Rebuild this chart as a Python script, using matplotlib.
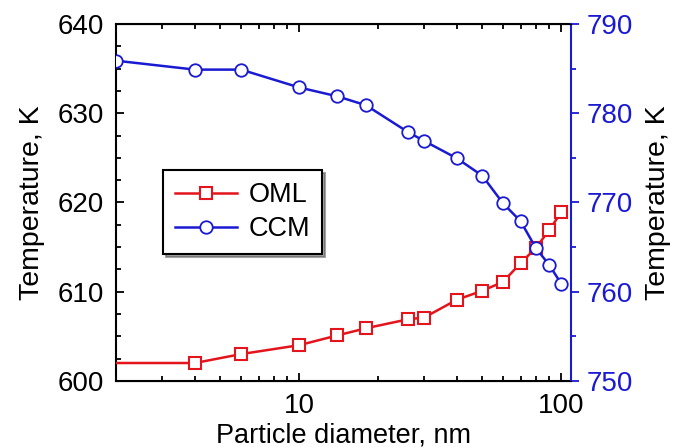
import numpy as np
import matplotlib.pyplot as plt
from matplotlib.ticker import MultipleLocator, LogLocator, NullFormatter

plt.rcParams['font.family'] = ['Liberation Sans', 'DejaVu Sans']

# particle diameter, nm
d = [2, 4, 6, 10, 14, 18, 26, 30, 40, 50, 60, 70, 80, 90, 100]
# OML temperature (left axis), K
t_oml = [602, 602, 603, 604, 605.1, 605.9, 606.9, 607.1, 609.1, 610.1, 611.1, 613.2, 614.9, 616.9, 618.9]
# CCM temperature (right axis), K
t_ccm = [785.9, 784.9, 784.9, 782.9, 781.9, 780.9, 777.9, 776.9, 774.95, 773, 769.9, 767.9, 764.9, 763, 760.9]

red = '#e3141c'
blue = '#1a1ad2'

fig = plt.figure(figsize=(6.83, 4.47), dpi=100)
ax = fig.add_axes([0.170, 0.148, 0.666, 0.798])
ax2 = ax.twinx()

ax.plot(d, t_oml, '-s', color=red, lw=1.8, ms=8, mfc='white', mec=red, mew=1.5,
        markevery=list(range(1, len(d))), label='OML', zorder=3)
ax2.plot(d, t_ccm, '-o', color=blue, lw=1.8, ms=9, mfc='white', mec=blue, mew=1.3,
         label='CCM', zorder=4)

ax.set_xscale('log')
ax.set_xlim(2, 109)
ax.set_ylim(600, 640)
ax2.set_ylim(750, 790)

ax.yaxis.set_major_locator(MultipleLocator(10))
ax.yaxis.set_minor_locator(MultipleLocator(2.5))
ax2.yaxis.set_major_locator(MultipleLocator(10))
ax2.yaxis.set_minor_locator(MultipleLocator(5))
ax.xaxis.set_minor_locator(LogLocator(base=10, subs=np.arange(2, 10)))
ax.xaxis.set_minor_formatter(NullFormatter())
ax.set_xticks([10, 100])
ax.set_xticklabels(['10', '100'])

fs = 20
ax.tick_params(axis='both', which='both', direction='in', labelsize=fs, width=1.3, top=True, pad=9)
ax.tick_params(axis='both', which='major', length=6)
ax.tick_params(axis='both', which='minor', length=3.5)
ax.tick_params(axis='y', right=False)
ax2.tick_params(axis='y', which='both', direction='out', colors=blue, labelsize=fs, width=1.3, pad=5)
ax2.tick_params(axis='y', which='major', length=6)
ax2.tick_params(axis='y', which='minor', length=3.5)

for s in ['left', 'top', 'bottom']:
    ax.spines[s].set_linewidth(1.5)
ax2.spines['right'].set_color(blue)
ax2.spines['right'].set_linewidth(1.5)
ax2.spines['left'].set_visible(False)
ax.spines['right'].set_visible(False)

ax.set_xlabel('Particle diameter, nm', fontsize=19.5, labelpad=2)
ax.set_ylabel('Temperature, K', fontsize=20.5, labelpad=9)
ax2.set_ylabel('Temperature, K', fontsize=20.5, color='black', labelpad=9)

h1, l1 = ax.get_legend_handles_labels()
h2, l2 = ax2.get_legend_handles_labels()
leg = ax2.legend(h1 + h2, l1 + l2, loc='center left', bbox_to_anchor=(0.103, 0.473),
                 borderaxespad=0, fontsize=19.5, frameon=True, fancybox=False, shadow=True,
                 handlelength=2.3, handletextpad=0.4, borderpad=0.45, labelspacing=0.3)
leg.get_frame().set_edgecolor('black')
leg.get_frame().set_linewidth(1.5)

fig.savefig('out.png', dpi=100)
